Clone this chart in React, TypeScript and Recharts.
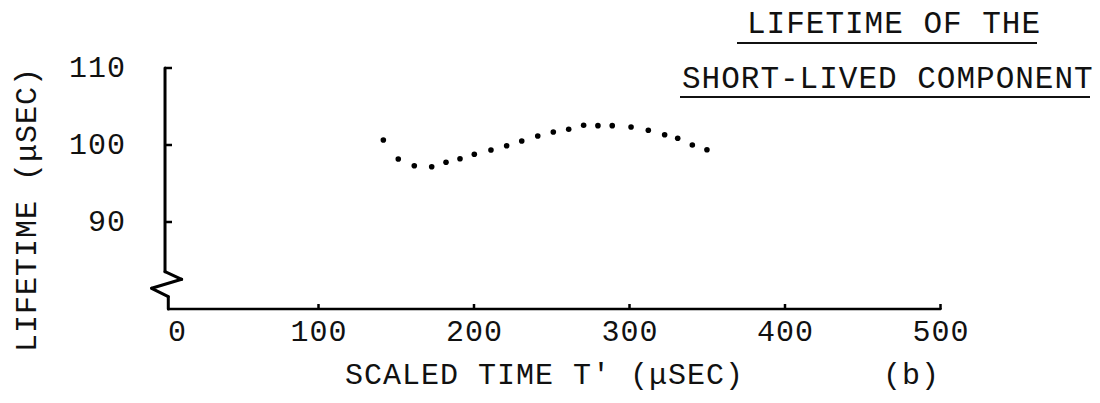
import React from 'react';
import { ScatterChart, Scatter, XAxis, YAxis, ReferenceLine } from 'recharts';

// Scaled time T' (µsec) of each measured point
const scaledTime = [
  141.7, 151.3, 161.6, 172.8, 182.0, 191.0, 200.2, 210.9, 221.0, 230.7, 241.0,
  251.0, 260.9, 270.5, 279.7, 288.9, 301.0, 312.1, 322.6, 331.0, 340.4, 349.8,
];

// Lifetime of the short-lived component (µsec)
const lifetime = [
  100.65, 98.18, 97.31, 97.18, 97.75, 98.22, 98.79, 99.35, 99.91, 100.52, 101.17,
  101.69, 102.04, 102.56, 102.51, 102.51, 102.34, 101.91, 101.34, 100.87, 100.0, 99.39,
];

const xTicks = [0, 100, 200, 300, 400, 500];
const yTicks = [90, 100, 110];

const xDomain: [number, number] = [0, 500];
const yDomain: [number, number] = [78.7, 110];

// Hand-drawn axis: vertical line with a zig-zag break, then the time axis (data units)
const axisTrace = [
  { x: 1.3, y: 110 },
  { x: 1.3, y: 83.55 },
  { x: 12, y: 82.56 },
  { x: -7.3, y: 81.39 },
  { x: 3.4, y: 80.3 },
  { x: 3.4, y: 78.7 },
  { x: 500, y: 78.7 },
];

const points = scaledTime.map((t, i) => ({ t, life: lifetime[i] }));

const FONT = '"Liberation Mono", "DejaVu Sans Mono", monospace';
const FS = 30;
const LS = 1;

const textStyle = {
  fontFamily: FONT,
  fontSize: FS,
  letterSpacing: LS,
  fill: '#111',
} as const;

const titleStyle = { ...textStyle, fontSize: 31, letterSpacing: 1 } as const;

const XTick = (props: any) => {
  const { x, y, payload } = props;
  const v = payload.value;
  return (
    <g>
      {v !== 0 && (
        <line x1={x} x2={x} y1={y} y2={y - 5} stroke="#000" strokeWidth={2.5} />
      )}
      <text
        x={x + (v === 0 ? 14 : 0) + LS / 2}
        y={y + 32}
        textAnchor="middle"
        style={textStyle}
      >
        {v}
      </text>
    </g>
  );
};

const YTick = (props: any) => {
  const { x, y, payload } = props;
  return (
    <g>
      <line x1={x + 2} x2={x + 9} y1={y} y2={y} stroke="#000" strokeWidth={2.5} />
      <text x={x - 38 + LS} y={y + 9} textAnchor="end" style={textStyle}>
        {payload.value}
      </text>
    </g>
  );
};

const Dot = (props: any) => (
  <circle cx={props.cx} cy={props.cy} r={2.8} fill="#000" />
);

export default function App() {
  const W = 1100;
  const H = 403;
  return (
    <div
      style={{
        position: 'absolute',
        left: 0,
        top: 0,
        width: W,
        height: H,
        background: '#fff',
        overflow: 'hidden',
      }}
    >
      <ScatterChart
        width={W}
        height={H}
        margin={{ top: 68, right: 159.5, bottom: 64, left: 103 }}
      >
        <XAxis
          type="number"
          dataKey="t"
          domain={xDomain}
          ticks={xTicks}
          allowDataOverflow
          axisLine={false}
          tickLine={false}
          tickSize={0}
          tickMargin={0}
          height={30}
          tick={<XTick />}
          interval={0}
        />
        <YAxis
          type="number"
          dataKey="life"
          domain={yDomain}
          ticks={yTicks}
          allowDataOverflow
          axisLine={false}
          tickLine={false}
          tickSize={0}
          tickMargin={0}
          width={60}
          tick={<YTick />}
          interval={0}
        />
        {axisTrace.slice(1).map((p, i) => (
          <ReferenceLine
            key={i}
            segment={[axisTrace[i], p]}
            stroke="#000"
            strokeWidth={i === axisTrace.length - 2 ? 2.5 : 3}
            strokeLinecap="round"
            ifOverflow="visible"
          />
        ))}
        <Scatter data={points} shape={<Dot />} isAnimationActive={false} />
      </ScatterChart>

      <svg
        width={W}
        height={H}
        style={{ position: 'absolute', left: 0, top: 0, pointerEvents: 'none' }}
      >
        <text x={747} y={33} style={titleStyle}>
          LIFETIME OF THE
        </text>
        <line x1={737} x2={1037} y1={43} y2={43} stroke="#111" strokeWidth={2} />
        <text x={682} y={88} style={titleStyle}>
          SHORT-LIVED COMPONENT
        </text>
        <line x1={680} x2={1090} y1={97} y2={97} stroke="#111" strokeWidth={2} />

        <text x={345} y={384} style={textStyle}>
          SCALED TIME T' (μSEC)
        </text>
        <text x={883} y={384} style={textStyle}>
          (b)
        </text>
        <text
          x={0}
          y={0}
          transform="translate(36, 352) rotate(-90)"
          style={textStyle}
        >
          LIFETIME (μSEC)
        </text>
      </svg>
    </div>
  );
}
